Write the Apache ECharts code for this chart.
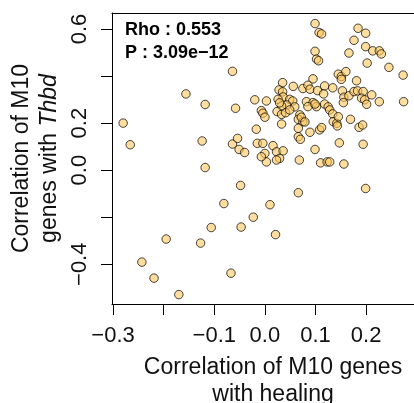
<!DOCTYPE html>
<html>
<head>
<meta charset="utf-8">
<script src="https://cdn.jsdelivr.net/npm/echarts@6/dist/echarts.min.js"></script>
<style>
html,body{margin:0;padding:0;background:#fff;}
#chart{width:414px;height:403px;}
</style>
</head>
<body>
<div id="chart"></div>
<script>
// Correlation of each M10 gene with healing (x) and with Thbd (y)
const healingCorr = [
  0.099, 0.107, 0.112, 0.184, 0.199, 0.176, 0.099, 0.102, 0.106, 0.166,
  0.199, 0.213, 0.226, 0.230, 0.202, 0.245, 0.273, -0.064, 0.095, 0.145,
  0.151, 0.160, 0.151, 0.181, 0.035, 0.056, 0.075, 0.085, 0.089, 0.104,
  0.118, 0.116, 0.134, 0.028, 0.035, 0.036, 0.026, -0.020, 0.003, 0.049,
  0.055, 0.059, 0.043, 0.033, 0.082, 0.095, 0.102, 0.118, 0.125, 0.153,
  0.156, 0.166, 0.176, 0.183, 0.194, 0.191, 0.197, 0.211, 0.226, 0.274,
  0.155, 0.201, -0.007, -0.004, 0.000, 0.029, 0.024, 0.033, 0.041, 0.049,
  0.069, 0.066, 0.075, 0.072, 0.085, 0.099, 0.128, 0.134, 0.135, 0.142,
  0.145, 0.169, 0.186, 0.193, 0.033, -0.017, 0.066, 0.066, 0.070, 0.089,
  0.108, 0.112, -0.015, -0.004, 0.016, 0.023, 0.036, 0.029, 0.023, 0.000,
  0.003, -0.007, 0.099, 0.068, 0.110, 0.123, 0.147, 0.194, 0.128, 0.156,
  -0.156, -0.118, -0.058, -0.280, -0.266, -0.124, -0.064, -0.054, -0.051, -0.040,
  -0.118, -0.048, -0.081, -0.023, -0.106, -0.047, -0.195, -0.127, -0.243, -0.219,
  -0.067, -0.170, 0.066, 0.010, 0.021, 0.199, 0.079, 0.143
];
const thbdCorr = [
  0.623, 0.585, 0.579, 0.603, 0.582, 0.552, 0.505, 0.472, 0.465, 0.498,
  0.525, 0.507, 0.507, 0.494, 0.455, 0.437, 0.404, 0.420, 0.388, 0.408,
  0.398, 0.419, 0.386, 0.380, 0.372, 0.356, 0.347, 0.361, 0.344, 0.338,
  0.358, 0.324, 0.350, 0.341, 0.333, 0.311, 0.301, 0.299, 0.294, 0.301,
  0.294, 0.269, 0.277, 0.273, 0.291, 0.287, 0.270, 0.281, 0.269, 0.337,
  0.310, 0.316, 0.334, 0.337, 0.334, 0.306, 0.299, 0.320, 0.291, 0.291,
  0.287, 0.280, 0.253, 0.242, 0.225, 0.286, 0.249, 0.237, 0.244, 0.256,
  0.235, 0.216, 0.206, 0.225, 0.270, 0.281, 0.256, 0.239, 0.206, 0.199,
  0.227, 0.216, 0.182, 0.192, 0.196, 0.174, 0.178, 0.142, 0.131, 0.161,
  0.171, 0.181, 0.114, 0.114, 0.104, 0.078, 0.082, 0.050, 0.043, 0.071,
  0.035, 0.057, 0.088, 0.043, 0.031, 0.035, 0.116, 0.110, 0.035, 0.026,
  0.324, 0.279, 0.263, 0.200, 0.108, 0.124, 0.111, 0.135, 0.088, 0.075,
  0.011, -0.065, -0.142, -0.200, -0.244, -0.242, -0.293, -0.310, -0.391, -0.459,
  -0.438, -0.529, -0.096, -0.147, -0.274, -0.078, 0.205, 0.188
];
const xTicks = [-0.3, -0.2, -0.1, 0.0, 0.1, 0.2];
const xTickLabels = [-0.3, -0.1, 0.0, 0.1, 0.2];
const yTicks = [-0.4, -0.2, 0.0, 0.2, 0.4, 0.6];
const yTickLabels = [-0.4, 0.0, 0.2, 0.6];
const statsText = ['Rho : 0.553', 'P : 3.09e\u221212'];

const points = healingCorr.map((x, i) => [x, thbdCorr[i]]);
const FONT = '"Liberation Sans", Arial, Helvetica, sans-serif';
const fmt = v => (Math.round(v * 10) / 10).toFixed(1).replace('-', '\u2212');
const X_MIN = -0.302, X_MAX = 0.334;

const chart = echarts.init(document.getElementById('chart'), null, {renderer: 'canvas'});
chart.setOption({
  animation: false,
  backgroundColor: '#fff',
  grid: {
    left: 112, top: 13, width: 322, height: 291,
    outerBoundsMode: 'none', containLabel: false,
    show: false
  },
  xAxis: [{
    type: 'value', min: X_MIN, max: X_MAX, position: 'bottom',
    axisLine: {show: true, onZero: false, lineStyle: {color: '#000', width: 1}},
    splitLine: {show: false},
    axisTick: {show: true, inside: false, length: 11, customValues: xTicks,
      lineStyle: {color: '#000', width: 1}},
    axisLabel: {show: true, customValues: xTickLabels, margin: 21, formatter: fmt,
      fontFamily: FONT, fontSize: 22, color: '#111'},
    name: '{t|Correlation of M10 genes}\n{t|with healing}',
    nameLocation: 'middle', nameGap: 50,
    nameTextStyle: {rich: {t: {fontFamily: FONT, fontSize: 23, color: '#111', lineHeight: 27}}}
  }, {
    type: 'value', min: X_MIN, max: X_MAX, position: 'top',
    axisLine: {show: true, onZero: false, lineStyle: {color: '#000', width: 1}},
    splitLine: {show: false}, axisTick: {show: false}, axisLabel: {show: false}
  }],
  yAxis: {
    type: 'value', min: -0.569, max: 0.668, position: 'left',
    axisLine: {show: true, onZero: false, lineStyle: {color: '#000', width: 1}},
    splitLine: {show: false},
    axisTick: {show: true, inside: false, length: 11, customValues: yTicks,
      lineStyle: {color: '#000', width: 1}},
    axisLabel: {show: true, customValues: yTickLabels, margin: 21, rotate: 90, formatter: fmt,
      fontFamily: FONT, fontSize: 22, color: '#111'},
    name: '{t|Correlation of M10}\n{t|genes with }{i|Thbd}',
    nameLocation: 'middle', nameGap: 46, nameRotate: 90,
    nameTextStyle: {rich: {
      t: {fontFamily: FONT, fontSize: 23, color: '#111', lineHeight: 28},
      i: {fontFamily: FONT, fontSize: 23, color: '#111', fontStyle: 'italic', lineHeight: 28}
    }}
  },
  graphic: [{
    type: 'text', left: 125, top: 19,
    style: {text: statsText.join('\n'), font: 'bold 18px ' + FONT, fill: '#000', lineHeight: 23}
  }],
  series: [{
    type: 'scatter',
    xAxisIndex: 0, yAxisIndex: 0,
    data: points,
    symbol: 'circle',
    symbolSize: 8.5,
    itemStyle: {color: 'rgba(254,200,95,0.75)', borderColor: 'rgba(0,0,0,0.9)', borderWidth: 1},
    emphasis: {disabled: true}
  }]
});
</script>
</body>
</html>
